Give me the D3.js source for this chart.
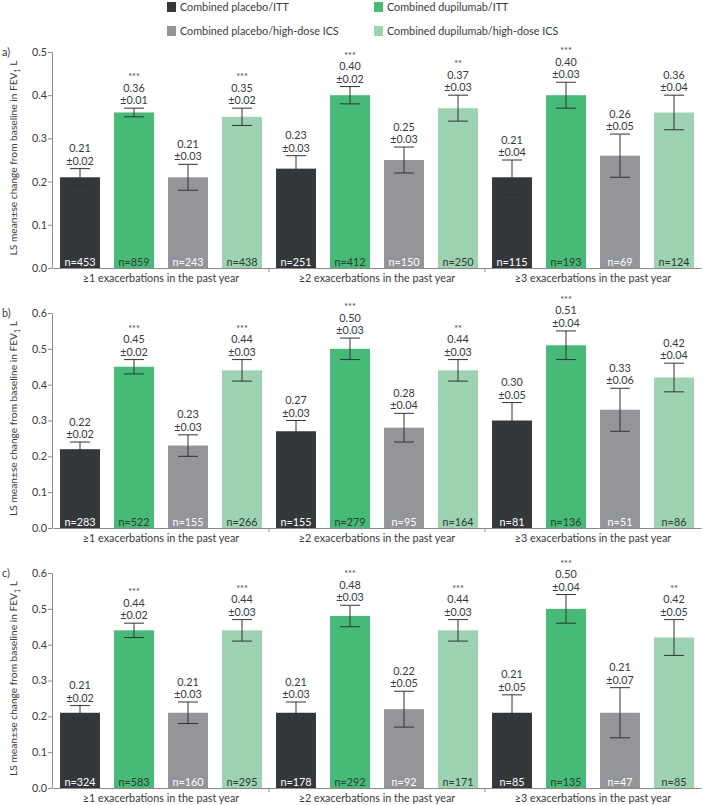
<!DOCTYPE html>
<html><head><meta charset="utf-8">
<script src="https://cdn.jsdelivr.net/npm/d3@7"></script>
<style>
body{margin:0;background:#fff;}
svg{display:block;font-family:Lato,"Open Sans",sans-serif;}
</style></head>
<body><svg id="c" width="703" height="805"></svg>
<script>
const groups = ["≥1 exacerbations in the past year","≥2 exacerbations in the past year","≥3 exacerbations in the past year"];
const seriesNames = ["Combined placebo/ITT","Combined dupilumab/ITT","Combined placebo/high-dose ICS","Combined dupilumab/high-dose ICS"];
const seriesColors = ["#35383b","#46bb77","#939598","#9dd3b0"];
const nTextColors = ["#ffffff","#2f3a33","#ffffff","#2f3a33"];

// Panel a
const aMean = [0.21,0.36,0.21,0.35, 0.23,0.40,0.25,0.37, 0.21,0.40,0.26,0.36];
const aSE   = [0.02,0.01,0.03,0.02, 0.03,0.02,0.03,0.03, 0.04,0.03,0.05,0.04];
const aN    = [453,859,243,438, 251,412,150,250, 115,193,69,124];
const aStar = ["","***","","***", "","***","","**", "","***","",""];
const aTicks = [0,0.1,0.2,0.3,0.4,0.5];
// Panel b
const bMean = [0.22,0.45,0.23,0.44, 0.27,0.50,0.28,0.44, 0.30,0.51,0.33,0.42];
const bSE   = [0.02,0.02,0.03,0.03, 0.03,0.03,0.04,0.03, 0.05,0.04,0.06,0.04];
const bN    = [283,522,155,266, 155,279,95,164, 81,136,51,86];
const bStar = ["","***","","***", "","***","","**", "","***","",""];
const bTicks = [0,0.1,0.2,0.3,0.4,0.5,0.6];
// Panel c
const cMean = [0.21,0.44,0.21,0.44, 0.21,0.48,0.22,0.44, 0.21,0.50,0.21,0.42];
const cSE   = [0.02,0.02,0.03,0.03, 0.03,0.03,0.05,0.03, 0.05,0.04,0.07,0.05];
const cN    = [324,583,160,295, 178,292,92,171, 85,135,47,85];
const cStar = ["","***","","***", "","***","","***", "","***","","**"];
const cTicks = [0,0.1,0.2,0.3,0.4,0.5,0.6];

const panels = [
  {label:"a)", mean:aMean, se:aSE, n:aN, star:aStar, ticks:aTicks, top:52, bottom:268},
  {label:"b)", mean:bMean, se:bSE, n:bN, star:bStar, ticks:bTicks, top:313, bottom:528},
  {label:"c)", mean:cMean, se:cSE, n:cN, star:cStar, ticks:cTicks, top:573, bottom:788}
];

const svg = d3.select("#c");
const axisColor = "#8a8a8a", textColor = "#3a3a3a";
const fs = 10.8;
const xLeft = 53, xRight = 701;

// Legend
const legendPos = [[167,7],[374,7],[167,31],[374,31]];
const leg = svg.append("g");
seriesNames.forEach((s,i)=>{
  const [lx,ly] = legendPos[i];
  leg.append("rect").attr("x",lx).attr("y",ly-5).attr("width",9).attr("height",10).attr("fill",seriesColors[i]);
  leg.append("text").attr("x",lx+13).attr("y",ly).attr("dy","0.35em")
    .attr("font-size",fs).attr("fill",textColor).text(s);
});

const gx = d3.scaleBand().domain(groups).range([xLeft,xRight]).padding(0);
const sx = d3.scaleBand().domain(seriesNames).range([0,gx.bandwidth()]).paddingInner(0.26).paddingOuter(0.13);

panels.forEach(p=>{
  const g = svg.append("g");
  const y = d3.scaleLinear().domain([0,d3.max(p.ticks)]).range([p.bottom,p.top]);
  const rows = p.mean.map((m,i)=>({g:groups[Math.floor(i/4)], s:seriesNames[i%4], si:i%4, m, se:p.se[i], n:p.n[i], star:p.star[i]}));

  // y axis
  const ya = g.append("g").attr("transform",`translate(${xLeft-1},0)`)
    .call(d3.axisLeft(y).tickValues(p.ticks).tickFormat(d3.format(".1f")).tickSize(4).tickSizeOuter(0));
  ya.select(".domain").attr("stroke",axisColor);
  ya.selectAll(".tick line").attr("stroke",axisColor);
  ya.selectAll(".tick text").attr("fill",textColor).attr("font-size",fs).attr("font-family","Lato, sans-serif").attr("x",-5);

  // x axis
  const xa = g.append("g").attr("transform",`translate(0,${p.bottom})`)
    .call(d3.axisBottom(gx).tickSize(0).tickSizeOuter(0));
  xa.select(".domain").attr("stroke",axisColor);
  xa.selectAll(".tick text").attr("fill",textColor).attr("font-size",fs).attr("font-family","Lato, sans-serif").attr("dy","1.05em");
  // group divider ticks
  g.selectAll(".div").data(groups.slice(1)).join("line")
    .attr("x1",d=>gx(d)).attr("x2",d=>gx(d)).attr("y1",p.bottom).attr("y2",p.bottom+4).attr("stroke",axisColor);

  // bars
  g.selectAll(".bar").data(rows).join("rect")
    .attr("x",d=>gx(d.g)+sx(d.s)).attr("width",sx.bandwidth())
    .attr("y",d=>y(d.m)).attr("height",d=>y(0)-y(d.m)).attr("fill",d=>seriesColors[d.si]);

  // error bars
  const cw = 10;
  const eb = g.selectAll(".eb").data(rows).join("g")
    .attr("transform",d=>`translate(${gx(d.g)+sx(d.s)+sx.bandwidth()/2},0)`);
  eb.append("line").attr("y1",d=>y(d.m-d.se)).attr("y2",d=>y(d.m+d.se)).attr("stroke","#333").attr("stroke-width",1);
  eb.append("line").attr("x1",-cw).attr("x2",cw).attr("y1",d=>y(d.m+d.se)).attr("y2",d=>y(d.m+d.se)).attr("stroke","#333");
  eb.append("line").attr("x1",-cw).attr("x2",cw).attr("y1",d=>y(d.m-d.se)).attr("y2",d=>y(d.m-d.se)).attr("stroke","#333");

  // value labels
  eb.append("text").attr("text-anchor","middle").attr("y",d=>y(d.m+d.se)-4).attr("font-size",fs).attr("fill",textColor)
    .text(d=>"±"+d.se.toFixed(2));
  eb.append("text").attr("text-anchor","middle").attr("y",d=>y(d.m+d.se)-16.5).attr("font-size",fs).attr("fill",textColor)
    .text(d=>d.m.toFixed(2));
  eb.append("text").attr("text-anchor","middle").attr("y",d=>y(d.m+d.se)-28).attr("font-size",9).attr("fill",textColor)
    .text(d=>d.star);
  // n labels
  eb.append("text").attr("text-anchor","middle").attr("y",p.bottom-2).attr("font-size",fs).attr("fill",d=>nTextColors[d.si])
    .text(d=>"n="+d.n);

  // panel label
  g.append("text").attr("x",2).attr("y",p.top+4).attr("font-size",fs).attr("fill",textColor).text(p.label);
  // y title
  const cy = (p.top+p.bottom)/2 - 2;
  const t = g.append("text").attr("transform",`translate(17,${cy}) rotate(-90)`).attr("text-anchor","middle")
    .attr("font-size",10.2).attr("fill",textColor);
  t.append("tspan").text("LS mean±se change from baseline in FEV");
  t.append("tspan").attr("font-size",7).attr("dy",2.5).text("1");
  t.append("tspan").attr("dy",-2.5).text(" L");
});
</script></body></html>
